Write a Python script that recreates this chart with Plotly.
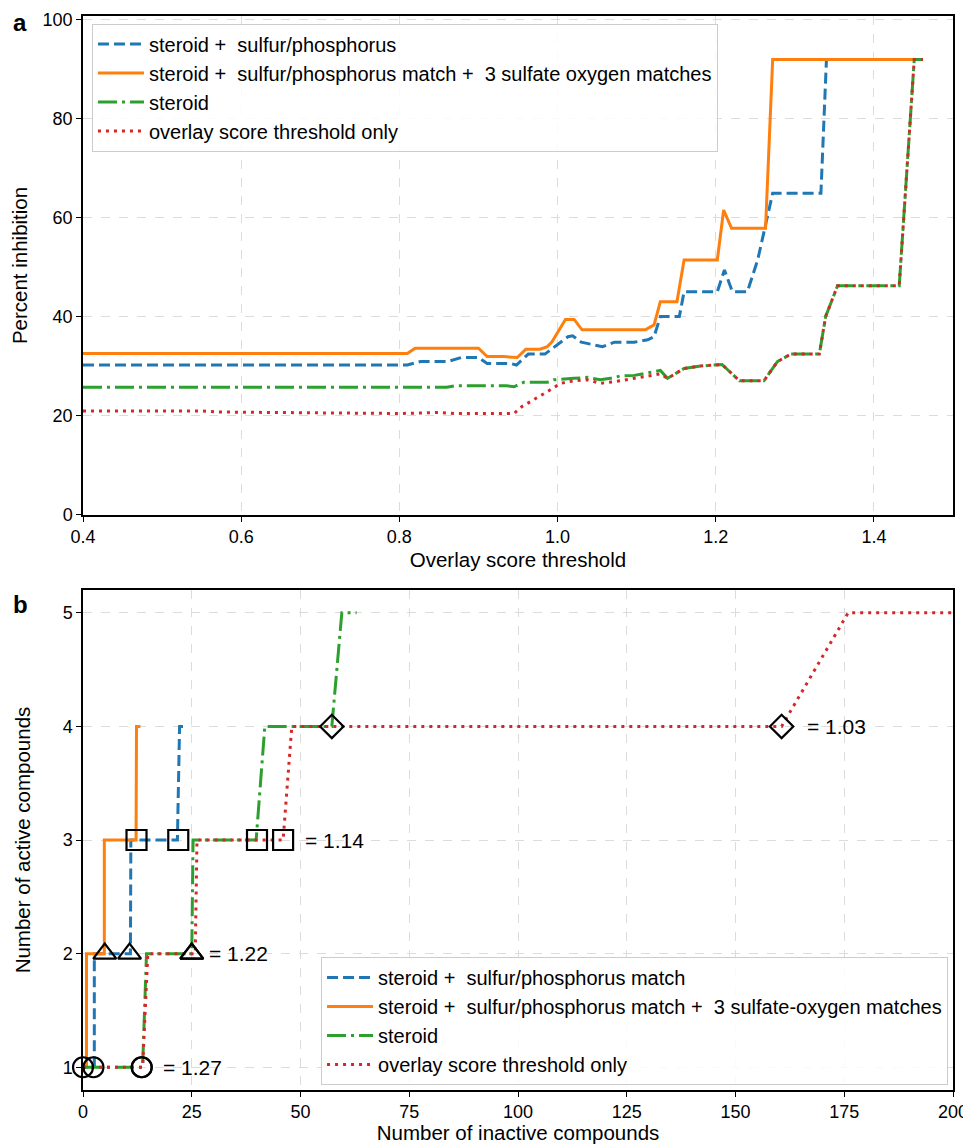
import plotly.graph_objects as go
from plotly.subplots import make_subplots

# ---------------- Panel a data ----------------
names_a = [
    "steroid +  sulfur/phosphorus",
    "steroid +  sulfur/phosphorus match +  3 sulfate oxygen matches",
    "steroid",
    "overlay score threshold only",
]
blue_x = [0.40, 0.810, 0.827, 0.861, 0.878, 0.900, 0.911, 0.941, 0.948, 0.963, 0.984, 1.013, 1.019, 1.030,
          1.042, 1.057, 1.072, 1.097, 1.114, 1.122, 1.130, 1.154, 1.160, 1.202, 1.211, 1.221, 1.240, 1.253,
          1.272, 1.333, 1.340, 1.462]
blue_y = [30.3, 30.3, 31.0, 31.0, 31.8, 31.8, 30.6, 30.6, 30.3, 32.5, 32.5, 36.0, 36.2, 34.9,
          34.5, 34.0, 34.9, 34.9, 35.4, 36.0, 40.1, 40.1, 45.1, 45.1, 49.5, 45.1, 45.1, 51.5,
          65.0, 65.0, 92.0, 92.0]
orange_x = [0.40, 0.810, 0.820, 0.900, 0.911, 0.932, 0.949, 0.960, 0.978, 0.987, 0.993, 1.010, 1.021, 1.031,
            1.111, 1.122, 1.130, 1.151, 1.160, 1.202, 1.210, 1.220, 1.263, 1.272, 1.462]
orange_y = [32.6, 32.6, 33.7, 33.7, 32.0, 32.0, 31.8, 33.5, 33.5, 34.0, 35.0, 39.5, 39.5, 37.4,
            37.4, 38.4, 43.1, 43.1, 51.5, 51.5, 61.6, 57.9, 57.9, 92.0, 92.0]
green_x = [0.40, 0.860, 0.870, 0.936, 0.945, 0.957, 0.987, 0.995, 1.021, 1.038, 1.054, 1.067, 1.080, 1.097,
           1.114, 1.130, 1.139, 1.160, 1.181, 1.208, 1.230, 1.261, 1.278, 1.295, 1.331, 1.339, 1.354,
           1.432, 1.451, 1.462]
green_y = [25.8, 25.8, 26.1, 26.1, 25.9, 26.8, 26.8, 27.3, 27.6, 27.8, 27.3, 27.6, 28.1, 28.2,
           28.7, 29.2, 27.6, 29.6, 30.1, 30.4, 27.1, 27.1, 31.0, 32.5, 32.5, 40.1, 46.3,
           46.3, 92.0, 92.0]
red_x = [0.40, 0.55, 0.57, 0.75, 0.80, 0.85, 0.87, 0.945, 0.955, 0.987, 1.004, 1.021, 1.038, 1.054, 1.071,
         1.097, 1.114, 1.130, 1.139, 1.160, 1.181, 1.208, 1.230, 1.261, 1.278, 1.295, 1.331, 1.339,
         1.354, 1.432, 1.451, 1.462]
red_y = [21.0, 21.0, 20.8, 20.6, 20.5, 20.7, 20.5, 20.5, 21.9, 24.9, 26.6, 27.1, 27.3, 26.6, 26.9,
         27.6, 28.1, 28.5, 27.6, 29.6, 30.1, 30.4, 27.1, 27.1, 31.0, 32.5, 32.5, 40.1,
         46.3, 46.3, 92.0, 92.0]

# ---------------- Panel b data ----------------
names_b = [
    "steroid +  sulfur/phosphorus match",
    "steroid +  sulfur/phosphorus match +  3 sulfate-oxygen matches",
    "steroid",
    "overlay score threshold only",
]
b_blue_x = [2.6, 2.6, 10.9, 11.0, 21.7, 22.2, 23.0]
b_blue_y = [1, 2, 2, 3, 3, 4, 4]
b_orange_x = [0, 0.8, 0.8, 4.9, 4.9, 12.2, 12.3, 13.2]
b_orange_y = [1, 1, 2, 2, 3, 3, 4, 4]
b_green_x = [0, 13.7, 14.6, 25.0, 25.3, 39.8, 41.8, 57.2, 59.5, 62.9]
b_green_y = [1, 1, 2, 2, 3, 3, 4, 4, 5, 5]
b_red_x = [0, 13.7, 14.9, 25.8, 26.2, 46.0, 48.0, 160.6, 175.9, 200]
b_red_y = [1, 1, 2, 2, 3, 3, 4, 4, 5, 5]

# markers: thresholds 1.27 (circle), 1.22 (triangle), 1.14 (square), 1.03 (diamond)
mk_blue_x = [2.4, 10.7, 21.9]
mk_blue_y = [1, 2, 3]
mk_orange_x = [0, 5.0, 12.3]
mk_orange_y = [1, 2, 3]
mk_green_x = [13.5, 25.0, 40.0, 57.2]
mk_green_y = [1, 2, 3, 4]
mk_red_x = [13.5, 25.0, 46.0, 160.6]
mk_red_y = [1, 2, 3, 4]
mk_symbols = ["circle-open", "triangle-up-open", "square-open", "diamond-open"]
thr_labels = ["= 1.27", "= 1.22", "= 1.14", "= 1.03"]
thr_label_x = [18.0, 28.4, 50.6, 166.0]
thr_label_y = [1, 2, 3, 4]

colors = ["#1f77b4", "#ff7f0e", "#2ca02c", "#d62728"]
dashes = ["11px,5px", "solid", "19px,5px,3px,5px", "3px,5px"]

FONT = "Liberation Sans, Arial, sans-serif"
TICK_SIZE = 18
TITLE_SIZE = 20.5
LEGEND_SIZE = 20

fig = make_subplots(rows=2, cols=1, vertical_spacing=0.07)

a_series = [(blue_x, blue_y), (orange_x, orange_y), (green_x, green_y), (red_x, red_y)]
for i, (xs, ys) in enumerate(a_series):
    fig.add_trace(go.Scatter(x=xs, y=ys, mode="lines", name=names_a[i],
                             line=dict(color=colors[i], width=3, dash=dashes[i]),
                             legend="legend"), row=1, col=1)

b_series = [(b_blue_x, b_blue_y), (b_orange_x, b_orange_y), (b_green_x, b_green_y), (b_red_x, b_red_y)]
for i, (xs, ys) in enumerate(b_series):
    fig.add_trace(go.Scatter(x=xs, y=ys, mode="lines", name=names_b[i],
                             line=dict(color=colors[i], width=3, dash=dashes[i]),
                             legend="legend2", cliponaxis=False), row=2, col=1)

mk_series = [(mk_blue_x, mk_blue_y), (mk_orange_x, mk_orange_y), (mk_green_x, mk_green_y), (mk_red_x, mk_red_y)]
for xs, ys in mk_series:
    syms = mk_symbols[:len(xs)]
    sizes = [20 if s != "diamond-open" else 18 for s in syms]
    fig.add_trace(go.Scatter(x=xs, y=ys, mode="markers", showlegend=False, cliponaxis=False,
                             marker=dict(symbol=syms, size=sizes, color="black", opacity=1,
                                         line=dict(color="black", width=2.2))), row=2, col=1)

for t, xv, yv in zip(thr_labels, thr_label_x, thr_label_y):
    fig.add_annotation(x=xv, y=yv, xref="x2", yref="y2", text=t, showarrow=False,
                       xanchor="left", yanchor="middle", font=dict(size=21, color="black", family=FONT))

axis_common = dict(showline=True, linecolor="black", linewidth=1.5, mirror=True,
                   ticks="outside", ticklen=5, tickwidth=1.2, tickcolor="black",
                   showgrid=True, gridcolor="#dcdcdc", griddash="dash", gridwidth=1,
                   zeroline=False, automargin=False,
                   tickfont=dict(size=TICK_SIZE, color="black", family=FONT),
                   title_font=dict(size=TITLE_SIZE, color="black", family=FONT))

fig.update_xaxes(axis_common, row=1, col=1, range=[0.4, 1.5], tickvals=[0.4, 0.6, 0.8, 1.0, 1.2, 1.4],
                 ticktext=["0.4", "0.6", "0.8", "1.0", "1.2", "1.4"],
                 title_text="Overlay score threshold", title_standoff=6, domain=[0, 1])
fig.update_yaxes(axis_common, row=1, col=1, range=[0, 100.8], tickvals=[0, 20, 40, 60, 80, 100],
                 title_text="Percent inhibition", title_standoff=10, domain=[0.5354, 1])
fig.update_xaxes(axis_common, row=2, col=1, range=[0, 200], tickvals=[0, 25, 50, 75, 100, 125, 150, 175, 200],
                 title_text="Number of inactive compounds", title_standoff=5, domain=[0, 1])
fig.update_yaxes(axis_common, row=2, col=1, range=[0.8, 5.2], tickvals=[1, 2, 3, 4, 5],
                 title_text="Number of active compounds", title_standoff=26, domain=[0, 0.4655])

fig.add_annotation(x=-0.0724, y=0.9944, xref="paper", yref="paper", text="<b>a</b>", showarrow=False,
                   xanchor="center", yanchor="middle", font=dict(size=24, color="black", family=FONT))
fig.add_annotation(x=-0.0724, y=0.4516, xref="paper", yref="paper", text="<b>b</b>", showarrow=False,
                   xanchor="center", yanchor="middle", font=dict(size=24, color="black", family=FONT))

legend_common = dict(bgcolor="rgba(255,255,255,0.85)", bordercolor="#cccccc", borderwidth=1,
                     font=dict(size=LEGEND_SIZE, color="black", family=FONT), tracegroupgap=0,
                     itemwidth=46)
# the page body has an 8px margin, so the figure is sized 8px smaller than the window
fig.update_layout(
    width=963, height=1136,
    margin=dict(l=75, r=18, t=8, b=54),
    plot_bgcolor="white", paper_bgcolor="white",
    font=dict(family=FONT, color="black"),
    legend=dict(legend_common, x=0.0103, y=0.993, xanchor="left", yanchor="top"),
    legend2=dict(legend_common, x=0.9943, y=0.0047, xanchor="right", yanchor="bottom"),
)

fig.write_html("out.html")
